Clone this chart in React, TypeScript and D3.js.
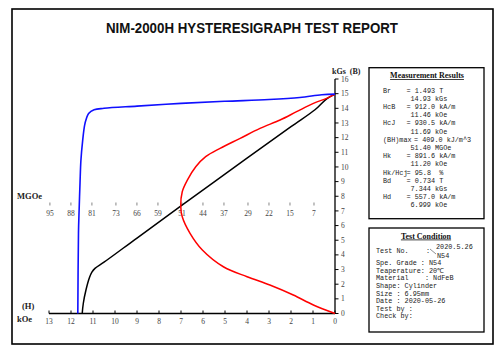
import React from "react";
import * as d3 from "d3";

// ---- data ----
const H_TICKS = [13, 12, 11, 10, 9, 8, 7, 6, 5, 4, 3, 2, 1, 0];
const B_TICKS = [0, 1, 2, 3, 4, 5, 6, 7, 8, 9, 10, 11, 12, 13, 14, 15, 16];
const BH_TICKS = [95, 88, 81, 73, 66, 59, 51, 44, 37, 29, 22, 15, 7];

// intrinsic J curve (H kOe, J kGs)
const J_H = [0, 0.6, 1.6, 3, 5, 7, 9, 10.5, 10.95, 11.2, 11.3, 11.38, 11.47, 11.55, 11.59, 11.63, 11.66, 11.69];
const J_B = [14.97, 14.93, 14.74, 14.6, 14.48, 14.34, 14.15, 14.0, 13.9, 13.65, 13.3, 12.85, 11.8, 10.44, 8.9, 7.1, 5.5, 0];

// normal B curve (H kOe, B kGs)
const B_H = [0, 0.38, 0.91, 2, 4, 7, 9, 10.5, 10.91, 11.05, 11.16, 11.32, 11.44, 11.49];
const B_B = [14.97, 14.65, 13.9, 12.75, 10.6, 7.34, 5.15, 3.5, 3.08, 2.82, 2.45, 1.6, 0.7, 0];

// energy product curve (BH MGOe, B kGs)
const BH_VAL = [0, 7.2, 13.9, 21.7, 29.3, 37.2, 44.2, 48.3, 50.9, 51.4, 50.9, 49.2, 46.4, 43.1, 38.3, 31.6, 25.0, 18.3, 12.8, 7.2, 2.8, 0];
const BH_B = [0, 0.58, 1.26, 1.94, 2.51, 3.19, 4.33, 5.47, 6.6, 7.34, 8.31, 9.1, 10.01, 10.7, 11.27, 11.95, 12.63, 13.2, 13.77, 14.34, 14.68, 14.97];

const RESULT_LABELS = ["Br", "HcB", "HcJ", "(BH)max", "Hk", "Hk/Hcj", "Bd", "Hd"];
const RESULT_LINE1 = ["= 1.493 T", "= 912.0 kA/m", "= 930.5 kA/m", "= 409.0 kJ/m^3", "= 891.6 kA/m", "= 95.8  %", "= 0.734 T", "= 557.0 kA/m"];
const RESULT_LINE2 = ["14.93 kGs", "11.46 kOe", "11.69 kOe", "51.40 MGOe", "11.20 kOe", "", "7.344 kGs", "6.999 kOe"];

const COND_LINES = ["Spe. Grade : N54", "Teaperature: 20℃", "Material    : NdFeB", "Shape: Cylinder", "Size : 6.95mm", "Date : 2020-05-26", "Test by :", "Check by:"];

export default function App() {
  const x = d3.scaleLinear().domain([0, 13]).range([335, 49]);
  const y = d3.scaleLinear().domain([0, 16]).range([313.5, 79]);
  const xbh = d3.scaleLinear().domain([0, 95.3]).range([335, 49]);

  const line = d3
    .line<[number, number]>()
    .x((d) => d[0])
    .y((d) => d[1])
    .curve(d3.curveCatmullRom.alpha(0.5));

  const jPath = line(J_H.map((h, i) => [x(h), y(J_B[i])]));
  const bPath = line(B_H.map((h, i) => [x(h), y(B_B[i])]));
  const bhPath = line(BH_VAL.map((v, i) => [xbh(v), y(BH_B[i])]));

  const serif = "'Liberation Serif', 'DejaVu Serif', serif";
  const mono = "'Liberation Mono', 'DejaVu Sans Mono', monospace";

  // results rows
  const rows: { text: string; x: number; row: number }[] = [];
  let r = 0;
  RESULT_LABELS.forEach((lab, i) => {
    rows.push({ text: lab, x: 383, row: r });
    rows.push({ text: RESULT_LINE1[i], x: lab === "(BH)max" ? 414 : 406.5, row: r });
    r++;
    if (RESULT_LINE2[i]) {
      rows.push({ text: RESULT_LINE2[i], x: 410.5, row: r });
      r++;
    }
  });
  const rowY = (k: number) => 92.5 + k * 8.21;

  return (
    <svg
      width={500}
      height={352}
      style={{ position: "absolute", left: 0, top: 0, background: "#fff" }}
    >
      <rect x={0} y={0} width={500} height={352} fill="#fff" />
      <rect x={12} y={9} width={481} height={335} fill="none" stroke="#000" strokeWidth={1.6} />
      <text
        x={252}
        y={33}
        textAnchor="middle"
        fontFamily="'Liberation Sans', Arial, sans-serif"
        fontWeight="bold"
        fontSize={14}
        textLength={292}
        lengthAdjust="spacingAndGlyphs"
        fill="#111"
      >
        NIM-2000H HYSTERESIGRAPH TEST REPORT
      </text>

      {/* axes */}
      <line x1={x(0)} x2={x(0)} y1={y(16)} y2={y(0)} stroke="#000" strokeWidth={1.3} />
      <line x1={x(13)} x2={x(0)} y1={y(0)} y2={y(0)} stroke="#000" strokeWidth={1.3} />
      {B_TICKS.map((b) => (
        <g key={"b" + b}>
          <line x1={x(0)} x2={x(0) + 3.5} y1={y(b)} y2={y(b)} stroke="#000" strokeWidth={1} />
          <text x={341} y={y(b) + 2.6} fontFamily={serif} fontSize={7.5} fill="#444">
            {b}
          </text>
        </g>
      ))}
      {H_TICKS.map((h) => (
        <g key={"h" + h}>
          <line x1={x(h)} x2={x(h)} y1={y(0)} y2={y(0) - 3} stroke="#000" strokeWidth={1} />
          <text x={x(h)} y={323.5} textAnchor="middle" fontFamily={serif} fontSize={7.5} fill="#444">
            {h}
          </text>
        </g>
      ))}
      {BH_TICKS.map((v) => (
        <g key={"bh" + v}>
          <line x1={xbh(v)} x2={xbh(v)} y1={202.5} y2={205.5} stroke="#666" strokeWidth={0.8} />
          <text x={xbh(v)} y={216} textAnchor="middle" fontFamily={serif} fontSize={7.5} fill="#444">
            {v}
          </text>
        </g>
      ))}
      <text x={17} y={199} fontFamily={serif} fontWeight="bold" fontSize={8.5} fill="#222">MGOe</text>
      <text x={22} y={309} fontFamily={serif} fontWeight="bold" fontSize={8.5} fill="#222">(H)</text>
      <text x={17} y={321.5} fontFamily={serif} fontWeight="bold" fontSize={8.5} fill="#222">kOe</text>
      <text x={332} y={74} fontFamily={serif} fontWeight="bold" fontSize={8} fill="#222" style={{ whiteSpace: "pre" }}>
        kGs  (B)
      </text>

      {/* curves */}
      <path d={bPath || ""} fill="none" stroke="#000" strokeWidth={1.5} />
      <path d={bhPath || ""} fill="none" stroke="#f00" strokeWidth={1.5} />
      <path d={jPath || ""} fill="none" stroke="#1010ff" strokeWidth={1.6} />

      {/* measurement results */}
      <rect x={369} y={67.7} width={115} height={151} fill="none" stroke="#000" strokeWidth={1.3} />
      <text x={427} y={78} textAnchor="middle" fontFamily={serif} fontWeight="bold" fontSize={8} textDecoration="underline" fill="#111">
        Measurement Results
      </text>
      {rows.map((d, i) => (
        <text key={"r" + i} x={d.x} y={rowY(d.row)} fontFamily={mono} fontSize={6.8} fill="#222" style={{ whiteSpace: "pre" }}>
          {d.text}
        </text>
      ))}

      {/* test condition */}
      <rect x={369} y={228} width={115} height={104} fill="none" stroke="#000" strokeWidth={1.3} />
      <text x={426} y={238.5} textAnchor="middle" fontFamily={serif} fontWeight="bold" fontSize={8} textDecoration="underline" fill="#111">
        Test Condition
      </text>
      <text x={376} y={253} fontFamily={mono} fontSize={6.8} fill="#222">Test No.</text>
      <text x={426} y={253} fontFamily={mono} fontSize={6.8} fill="#222">:</text>
      <line x1={430} x2={436} y1={249} y2={254} stroke="#444" strokeWidth={0.6} />
      <text x={436} y={249} fontFamily={mono} fontSize={6.8} fill="#222">2020.5.26</text>
      <text x={437} y={257.5} fontFamily={mono} fontSize={6.8} fill="#222">N54</text>
      {COND_LINES.map((t, i) => (
        <text key={"c" + i} x={376} y={265.2 + i * 7.6} fontFamily={mono} fontSize={6.8} fill="#222" style={{ whiteSpace: "pre" }}>
          {t}
        </text>
      ))}
    </svg>
  );
}
